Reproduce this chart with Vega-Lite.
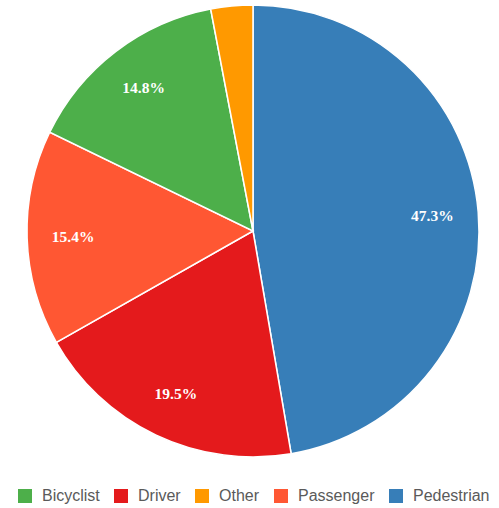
{
  "$schema": "https://vega.github.io/schema/vega-lite/v6.json",
  "autosize": {"type": "none"},
  "width": 452,
  "height": 452,
  "padding": {"left": 27, "top": 5, "right": 20, "bottom": 51},
  "background": "white",
  "data": {"values": [
    {"type": "Pedestrian", "pct": 47.3, "label": "47.3%", "ord": 1},
    {"type": "Driver", "pct": 19.5, "label": "19.5%", "ord": 2},
    {"type": "Passenger", "pct": 15.4, "label": "15.4%", "ord": 3},
    {"type": "Bicyclist", "pct": 14.8, "label": "14.8%", "ord": 4},
    {"type": "Other", "pct": 3.0, "label": "", "ord": 5}
  ]},
  "encoding": {
    "theta": {"field": "pct", "type": "quantitative", "stack": true},
    "order": {"field": "ord", "type": "quantitative"}
  },
  "layer": [
    {
      "mark": {"type": "arc", "stroke": "white", "strokeWidth": 1.5},
      "encoding": {
        "color": {
          "field": "type", "type": "nominal",
          "scale": {"domain": ["Bicyclist", "Driver", "Other", "Passenger", "Pedestrian"],
                    "range": ["#4daf4a", "#e41a1c", "#ff9900", "#ff5733", "#377eb8"]},
          "legend": {
            "title": null, "orient": "none", "direction": "horizontal",
            "legendX": -10, "legendY": 483,
            "symbolType": "square", "symbolSize": 196, "symbolStrokeWidth": 0, "symbolOpacity": 1,
            "labelFont": "Liberation Sans", "labelFontSize": 16, "labelColor": "#5a5a5a",
            "columnPadding": 13, "labelOffset": 9
          }
        }
      }
    },
    {
      "mark": {"type": "text", "radius": 180, "font": "Liberation Serif", "fontWeight": "bold", "fontSize": 15.5, "fill": "white"},
      "encoding": {
        "text": {"field": "label", "type": "nominal"}
      }
    }
  ]
}
